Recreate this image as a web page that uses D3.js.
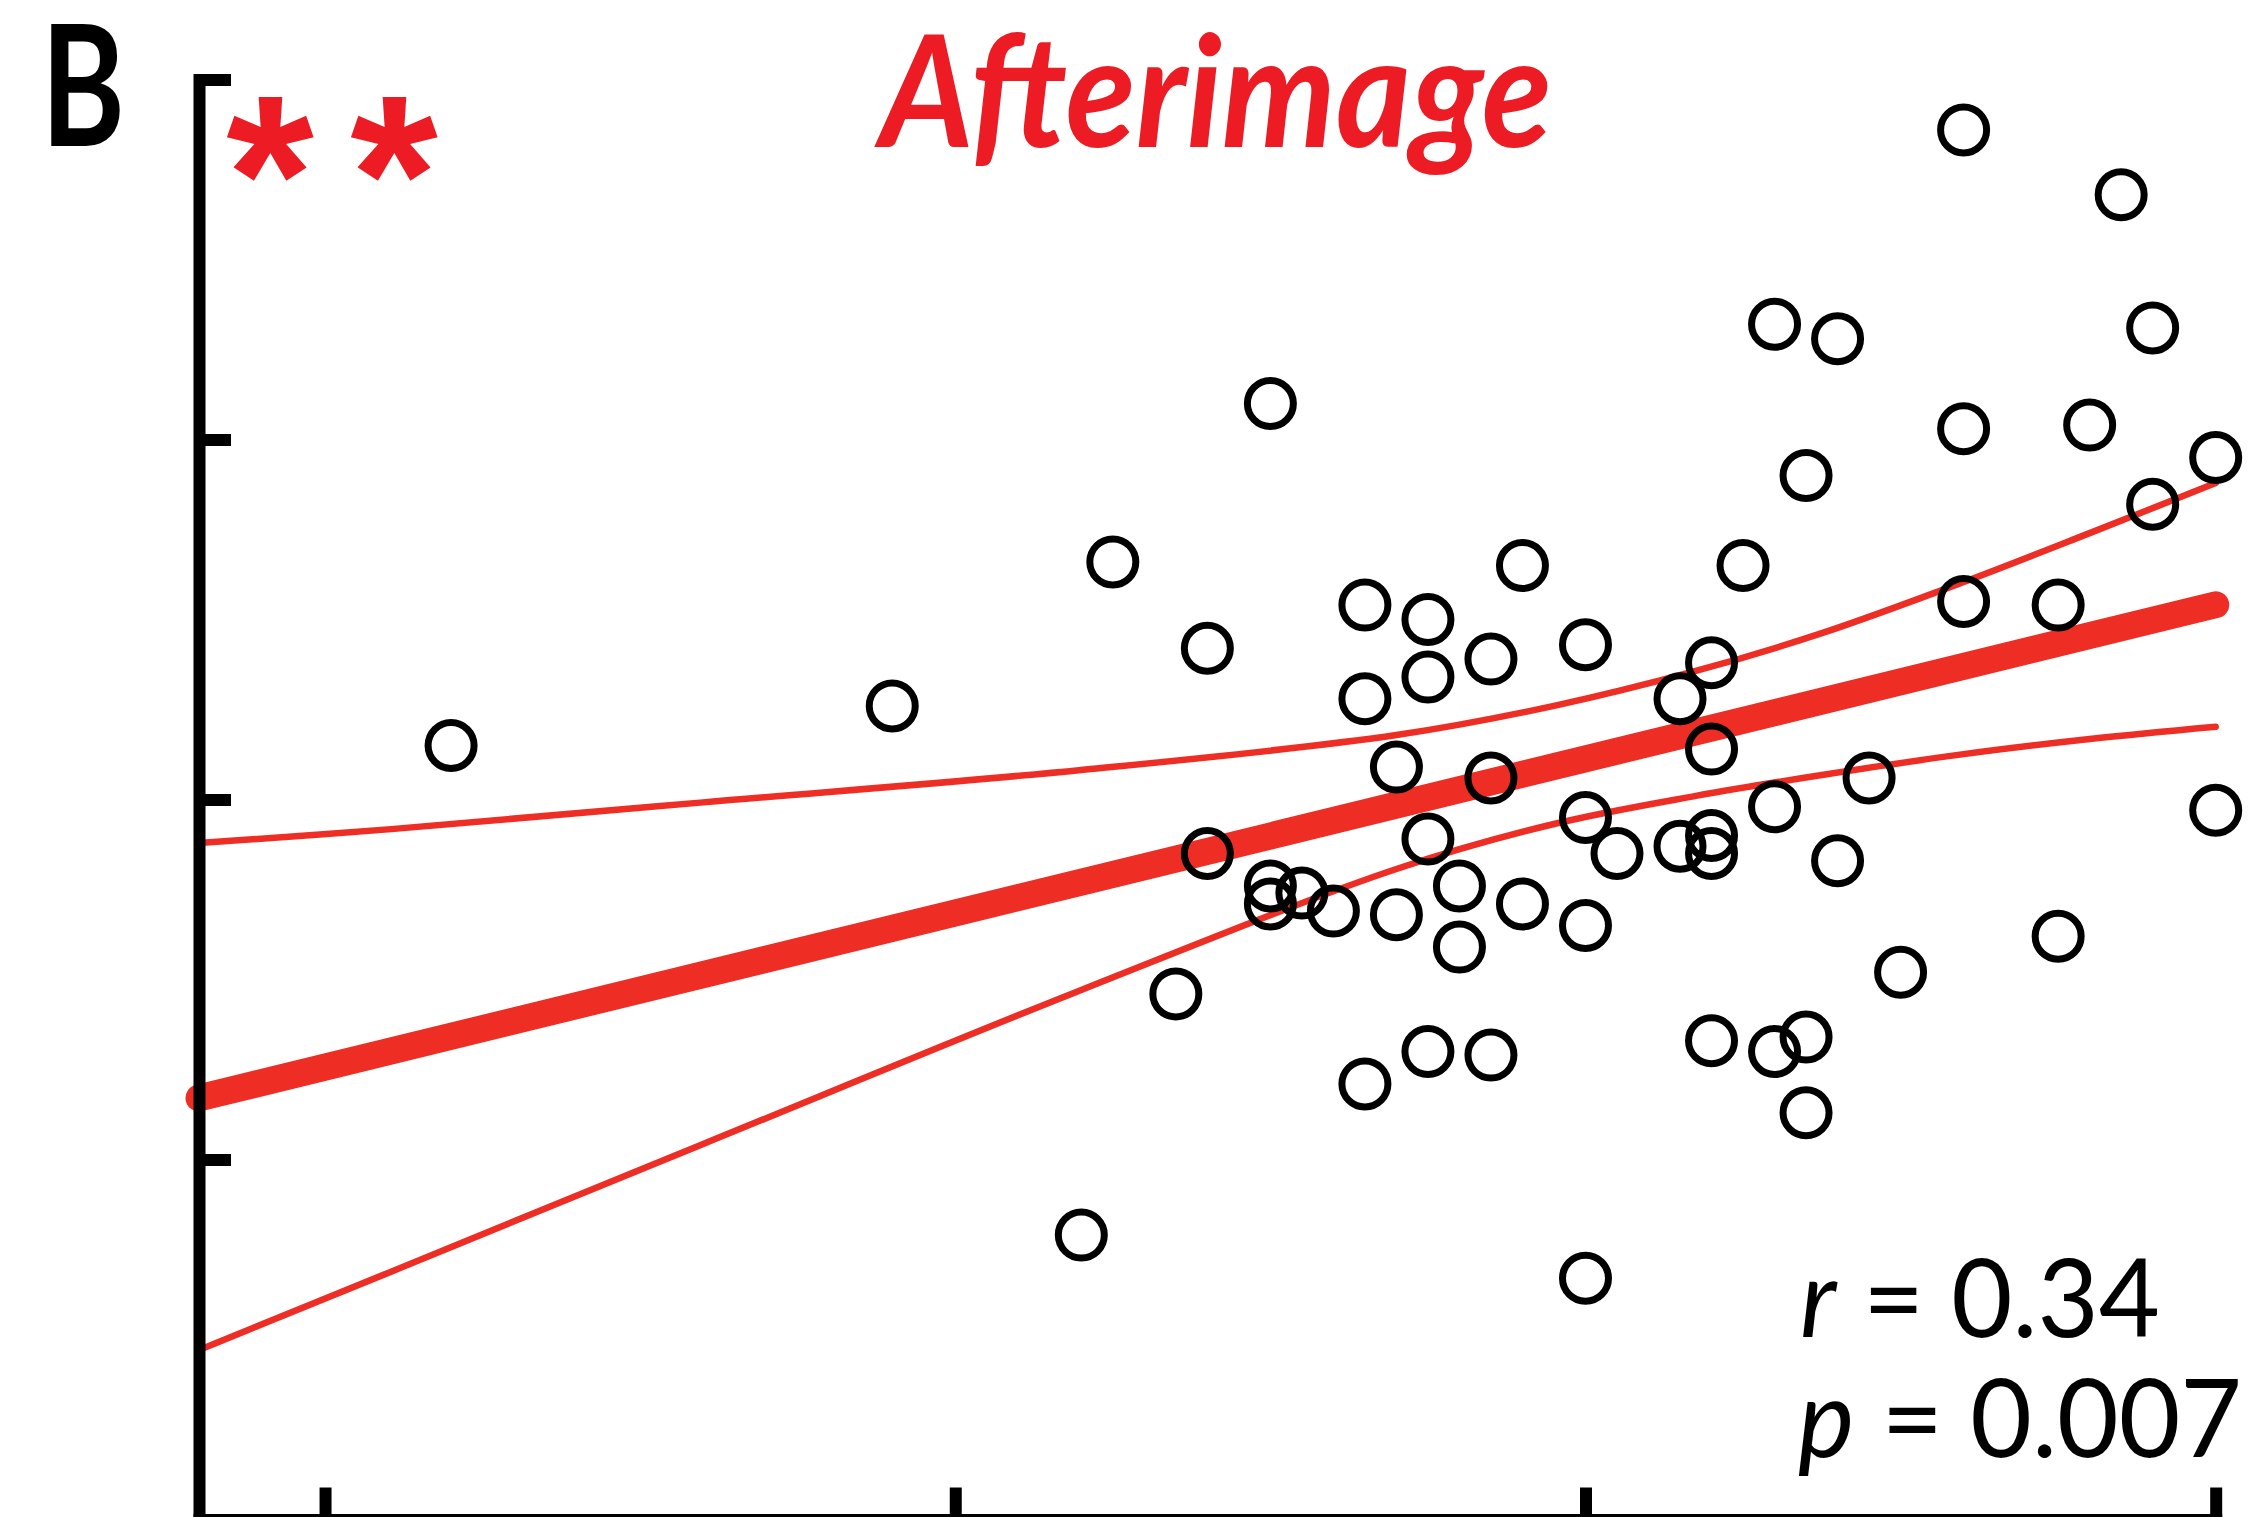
<!DOCTYPE html>
<html>
<head>
<meta charset="utf-8">
<script src="https://cdn.jsdelivr.net/npm/d3@7"></script>
<style>
  html, body { margin: 0; padding: 0; background: #ffffff; }
  svg { display: block; }
</style>
</head>
<body>
<svg id="chart" width="2259" height="1517"></svg>
<script>
// ---------------- data ----------------
const xTicks = [0, 20, 40, 60];
const yTicks = [0, 1, 2, 3, 4];
const xTickLabels = ["", "", "", ""];
const yTickLabels = ["", "", "", "", ""];

const pointX = [4, 18, 24, 25, 27, 28, 28, 30, 30, 30, 31, 32, 33, 33, 33, 34, 34, 35, 35, 35,
  35, 36, 36, 37, 37, 37, 38, 38, 40, 40, 40, 40, 41, 43, 43, 44, 44, 44, 44, 44,
  45, 46, 46, 46, 47, 47, 47, 48, 48, 49, 50, 52, 52, 52, 55, 55, 56, 57, 58, 58, 60, 60];
const pointY = [2.15, 2.26, 0.79, 2.66, 1.46, 2.42, 1.85, 3.10, 1.76, 1.71, 1.74, 1.69, 2.54, 2.28, 1.21, 2.09, 1.68, 2.50, 2.34, 1.89,
  1.30, 1.76, 1.59, 2.39, 2.06, 1.29, 2.65, 1.71, 2.43, 1.95, 1.65, 0.67, 1.85, 2.28, 1.87, 2.38, 2.14, 1.90, 1.85, 1.33,
  2.65, 3.32, 1.98, 1.30, 2.90, 1.34, 1.13, 3.28, 1.83, 2.06, 1.52, 3.86, 3.03, 2.55, 2.54, 1.62, 3.04, 3.68, 3.31, 2.82, 2.95, 1.97];

const fitX = [-4, 60];
const fitY = [1.171, 2.541];

const ciX     = [-4,    2,     12,    24,    34,    39,    43.5,  47.5,  52,    56,    60];
const ciUpper = [1.879, 1.917, 1.992, 2.082, 2.179, 2.260, 2.357, 2.462, 2.604, 2.740, 2.879];
const ciLower = [0.471, 0.685, 1.043, 1.471, 1.807, 1.932, 2.010, 2.068, 2.126, 2.168, 2.202];

const panelLabel = "B";
const titleText = "Afterimage";
const sigText = "*";
const rText = ["r", " = 0.34"];
const pText = ["p", " = 0.007"];

// ---------------- drawing ----------------
const RED = "#ee2e24";
const TITLE_RED = "#ed1c24";
const svg = d3.select("#chart");

const x = d3.scaleLinear().domain([-4, 60]).range([199, 2215.7]);
const y = d3.scaleLinear().domain([0, 4]).range([1519.5, 79.5]);

const line = d3.line().x(d => x(d[0])).y(d => y(d[1]));
const curve = d3.line().x(d => x(d[0])).y(d => y(d[1])).curve(d3.curveCatmullRom.alpha(0.5));

// CI bands
svg.append("path")
  .attr("d", curve(ciX.map((v, i) => [v, ciUpper[i]])))
  .attr("fill", "none").attr("stroke", RED).attr("stroke-width", 6.5)
  .attr("stroke-linecap", "round");
svg.append("path")
  .attr("d", curve(ciX.map((v, i) => [v, ciLower[i]])))
  .attr("fill", "none").attr("stroke", RED).attr("stroke-width", 6.5)
  .attr("stroke-linecap", "round");

// regression line
svg.append("path")
  .attr("d", line(fitX.map((v, i) => [v, fitY[i]])))
  .attr("fill", "none").attr("stroke", RED).attr("stroke-width", 27)
  .attr("stroke-linecap", "round");

// axes
const yAxis = d3.axisLeft(y).tickValues(yTicks).tickSizeInner(-32).tickSizeOuter(0)
  .tickFormat((d, i) => yTickLabels[i]);
const xAxis = d3.axisBottom(x).tickValues(xTicks).tickSizeInner(-32).tickSizeOuter(0)
  .tickFormat((d, i) => xTickLabels[i]);

const gy = svg.append("g").attr("transform", `translate(${x(-4)},0)`).call(yAxis);
const gx = svg.append("g").attr("transform", `translate(0,${y(0)})`).call(xAxis);
[gx, gy].forEach(g => {
  g.select(".domain").attr("stroke", "#000").attr("stroke-width", 12).attr("stroke-linecap", "square");
  g.selectAll(".tick line").attr("stroke", "#000").attr("stroke-width", 12);
});

// points
svg.append("g").selectAll("circle")
  .data(pointX.map((v, i) => [v, pointY[i]]))
  .join("circle")
  .attr("cx", d => x(d[0])).attr("cy", d => y(d[1]))
  .attr("r", 23)
  .attr("fill", "none").attr("stroke", "#000").attr("stroke-width", 7);

// texts
svg.append("text").text(panelLabel)
  .attr("transform", "translate(41,146) scale(0.76,1)")
  .attr("x", 0).attr("y", 0)
  .attr("font-family", "Lato, sans-serif").attr("font-weight", 700)
  .attr("font-size", 168).attr("fill", "#000");

[270, 394].forEach(cx => {
  svg.append("text").text(sigText)
    .attr("x", cx).attr("y", 252).attr("text-anchor", "middle")
    .attr("font-family", "Liberation Sans, Arial, sans-serif").attr("font-weight", 700)
    .attr("font-size", 225).attr("fill", TITLE_RED);
});

svg.append("text").text(titleText)
  .attr("x", 880).attr("y", 147)
  .attr("font-family", "Lato, sans-serif").attr("font-weight", 700).attr("font-style", "italic")
  .attr("font-size", 156).attr("fill", TITLE_RED)
  .attr("textLength", 672).attr("lengthAdjust", "spacingAndGlyphs");

function statLine(parts, xPos, yPos, len) {
  const t = svg.append("text").attr("x", xPos).attr("y", yPos)
    .attr("font-family", "Lato, sans-serif").attr("font-size", 109).attr("fill", "#000")
    .attr("textLength", len).attr("lengthAdjust", "spacingAndGlyphs")
    .style("white-space", "pre");
  t.append("tspan").attr("font-style", "italic").text(parts[0]);
  t.append("tspan").text(parts[1]);
}
statLine(rText, 1800, 1337, 360);
statLine(pText, 1798, 1457, 444);
</script>
</body>
</html>
